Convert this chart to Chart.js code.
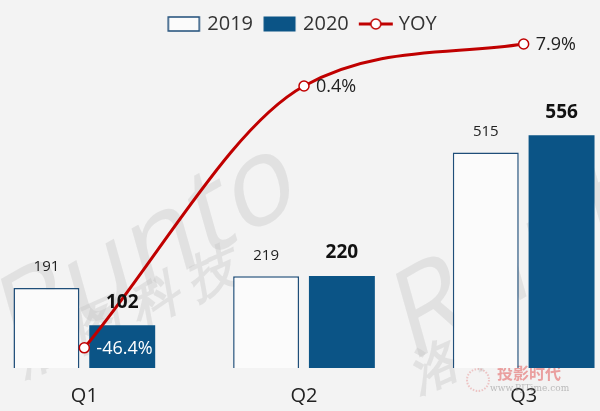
<!DOCTYPE html>
<html><head><meta charset="utf-8">
<script src="https://cdn.jsdelivr.net/npm/chart.js@4.4.0/dist/chart.umd.min.js"></script>
<style>
html,body{margin:0;padding:0;background:#f3f3f3;overflow:hidden;width:600px;height:411px}
#wrap{position:absolute;left:-32px;top:0;width:672px;height:416px}
</style></head><body>
<div id="wrap"><canvas id="c"></canvas></div>
<script>
const categories = ['Q1', 'Q2', 'Q3'];
const seriesNames = ['2019', '2020', 'YOY'];
const shipments2019 = [191, 219, 515];
const shipments2020 = [102, 220, 556];
const yoyPercent = [-46.4, 0.4, 7.9];

const FONT = '"Open Sans", "Noto Sans", sans-serif';
const C2019_FILL = '#fbfbfb', C2019_BORDER = '#1f4e79', C2020 = '#0b5486', CRED = '#c00000';
const OX = 32; // page-to-canvas x offset

function icon(kind) {
  const cv = document.createElement('canvas');
  cv.width = 36; cv.height = 18;
  const g = cv.getContext('2d');
  if (kind === 'line') {
    g.strokeStyle = CRED; g.lineWidth = 3;
    g.beginPath(); g.moveTo(1, 9); g.lineTo(35, 9); g.stroke();
    g.fillStyle = '#fff'; g.lineWidth = 1.5;
    g.beginPath(); g.arc(18, 9, 5, 0, Math.PI * 2); g.fill(); g.stroke();
  } else if (kind === 'outline') {
    g.fillStyle = C2019_FILL; g.fillRect(2, 2, 31, 14);
    g.strokeStyle = C2019_BORDER; g.lineWidth = 1.5; g.strokeRect(2, 2, 31, 14);
  } else {
    g.fillStyle = C2020; g.fillRect(1.5, 1.5, 32, 15);
  }
  return cv;
}
const icons = [icon('outline'), icon('fill'), icon('line')];

const watermark = {
  id: 'watermark',
  beforeDatasetsDraw(chart) {
    const ctx = chart.ctx;
    ctx.save();
    ctx.fillStyle = 'rgba(195,195,195,0.36)';
    const put = (txt, x, y, size, ang, weight) => {
      ctx.save();
      ctx.translate(x + OX, y);
      ctx.rotate(ang);
      ctx.transform(1, 0, -0.25, 1, 0, 0);
      ctx.font = (weight || 'normal') + ' ' + size + 'px ' + FONT;
      ctx.fillText(txt, 0, 0);
      ctx.restore();
    };
    put('Runto', 5, 335, 118, -0.52, 'normal');
    put('洛 图 科 技', 20, 362, 50, -0.42, 'bold');
    put('Runto', 400, 330, 118, -0.52, 'normal');
    put('洛 图', 415, 378, 50, -0.42, 'bold');
    // logo
    ctx.strokeStyle = 'rgba(225,110,110,0.35)'; ctx.lineWidth = 2;
    ctx.setLineDash([1.5, 1.5]);
    ctx.beginPath(); ctx.arc(478 + OX, 380, 11, 0, Math.PI * 2); ctx.stroke();
    ctx.setLineDash([]);
    ctx.textAlign = 'left'; ctx.textBaseline = 'middle';
    ctx.fillStyle = 'rgba(225,90,90,0.55)';
    ctx.font = 'bold 16px "Noto Sans CJK SC", sans-serif';
    ctx.fillText('投影时代', 497 + OX, 373);
    ctx.fillStyle = 'rgba(150,150,150,0.6)';
    ctx.font = '9px "DejaVu Serif", serif';
    ctx.fillText('www.PJTime.com', 490 + OX, 389);
    ctx.restore();
  }
};

const valueLabels = {
  id: 'valueLabels',
  afterDatasetsDraw(chart) {
    const ctx = chart.ctx;
    const m0 = chart.getDatasetMeta(0), m1 = chart.getDatasetMeta(1), m2 = chart.getDatasetMeta(2);
    ctx.save();
    ctx.textAlign = 'center'; ctx.textBaseline = 'middle';
    ctx.fillStyle = '#222'; ctx.font = '15px ' + FONT;
    m0.data.forEach((b, i) => ctx.fillText(String(shipments2019[i]), b.x, b.y - 21));
    ctx.fillStyle = '#111'; ctx.font = 'bold 19px ' + FONT;
    m1.data.forEach((b, i) => ctx.fillText(String(shipments2020[i]), b.x, b.y - 23));
    ctx.textAlign = 'left'; ctx.font = '18px ' + FONT;
    m2.data.forEach((p, i) => {
      ctx.fillStyle = i === 0 ? '#ffffff' : '#222';
      ctx.fillText(yoyPercent[i].toFixed(1) + '%', p.x + 12, p.y + 1);
    });
    ctx.restore();
  }
};

new Chart(document.getElementById('c'), {
  type: 'bar',
  data: {
    labels: categories,
    datasets: [
      { label: seriesNames[0], data: shipments2019, backgroundColor: C2019_FILL, borderColor: C2019_BORDER, borderWidth: 1.5, yAxisID: 'y', order: 2,
        categoryPercentage: 0.69, barPercentage: 0.87 },
      { label: seriesNames[1], data: shipments2020, backgroundColor: C2020, borderColor: C2020, borderWidth: 0, yAxisID: 'y', order: 2,
        categoryPercentage: 0.69, barPercentage: 0.87 },
      { type: 'line', label: seriesNames[2], data: yoyPercent, yAxisID: 'y1', order: 0, clip: false,
        borderColor: CRED, borderWidth: 3, cubicInterpolationMode: 'monotone',
        pointRadius: 5, pointBackgroundColor: '#fff', pointBorderColor: CRED, pointBorderWidth: 1.5 }
    ]
  },
  options: {
    responsive: true, maintainAspectRatio: false, animation: false,
    layout: { padding: { left: 0, right: 0, top: 0, bottom: 0 } },
    plugins: {
      tooltip: { enabled: false },
      legend: {
        position: 'top',
        labels: {
          usePointStyle: true, pointStyleWidth: 26, padding: 14,
          color: '#333', font: { size: 20, family: FONT },
          generateLabels(chart) {
            return chart.data.datasets.map((d, i) => ({
              text: d.label, pointStyle: icons[i], datasetIndex: i,
              fillStyle: 'transparent', strokeStyle: 'transparent', lineWidth: 0, hidden: false, fontColor: '#333'
            }));
          }
        }
      }
    },
    scales: {
      x: { grid: { display: false }, border: { display: false },
           ticks: { padding: 8, color: '#222', font: { size: 20, family: FONT } } },
      y: { display: false, min: 0, max: 774 },
      y1: { display: false, min: -50, max: 7.9 }
    }
  },
  plugins: [watermark, valueLabels]
});
</script>
</body></html>
